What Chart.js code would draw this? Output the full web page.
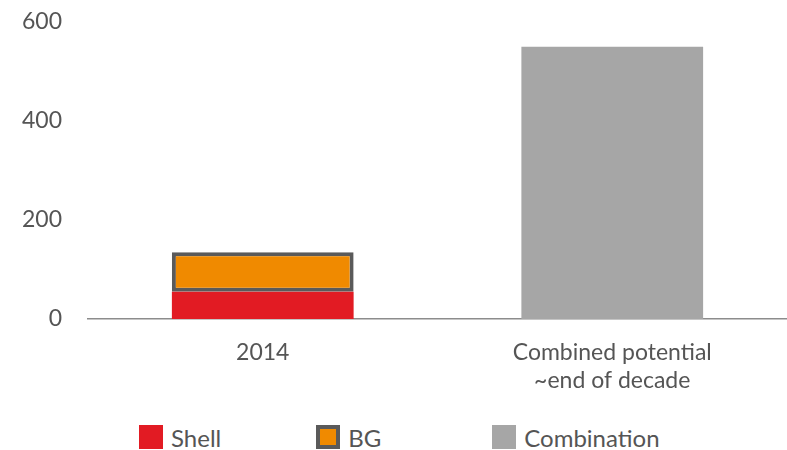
<!DOCTYPE html>
<html>
<head>
<meta charset="utf-8">
<script src="https://cdn.jsdelivr.net/npm/chart.js@4/dist/chart.umd.min.js"></script>
<style>
  body { margin: 0; background: #fff; }
  #wrap { position: relative; width: 787px; height: 402px; }
  #legend { position: absolute; top: 419px; left: 0; width: 787px; box-sizing: border-box; padding-left: 139px;
            display: flex; height: 36px; align-items: center;
            font-family: Lato, sans-serif; font-size: 24px; color: #555; }
  #legend .item { display: flex; align-items: center; }
  #legend .box { width: 24px; height: 24px; box-sizing: border-box; margin-right: 8px; }
</style>
</head>
<body>
<div id="wrap"><canvas id="chart"></canvas></div>
<div id="legend"></div>
<script>
var categories = ['2014', ['Combined potential', '~end of decade']];
var shellValues = [55, null];
var bgValues = [80, null];
var combinationValues = [null, 550];
var yTicks = [0, 200, 400, 600];
var legendGaps = [0, 95, 111];

var ctx = document.getElementById('chart').getContext('2d');
var chart = new Chart(ctx, {
  type: 'bar',
  data: {
    labels: categories,
    datasets: [{
      label: 'Shell',
      data: shellValues,
      backgroundColor: '#e21b23',
      borderWidth: 0
    }, {
      label: 'BG',
      data: bgValues,
      backgroundColor: '#f08a00',
      borderColor: '#5a5a5a',
      borderWidth: 4,
      borderSkipped: false
    }, {
      label: 'Combination',
      data: combinationValues,
      backgroundColor: '#a6a6a6',
      borderWidth: 0
    }]
  },
  options: {
    responsive: true,
    maintainAspectRatio: false,
    animation: false,
    layout: { padding: 0 },
    datasets: { bar: { categoryPercentage: 1.0, barPercentage: 0.52 } },
    plugins: { legend: { display: false }, tooltip: { enabled: false } },
    scales: {
      x: {
        stacked: true,
        grid: { display: false, drawTicks: false },
        border: { display: true, color: '#8c8c8c', width: 1.5 },
        ticks: { color: '#555', padding: 20, font: { family: 'Lato', size: 23 } },
        afterFit: function (axis) {
          axis.height = 83;
          axis.paddingLeft = 0;
          axis.paddingRight = 0;
        }
      },
      y: {
        stacked: true,
        min: 0,
        max: 600,
        afterBuildTicks: function (axis) {
          axis.ticks = yTicks.map(function (v) { return { value: v }; });
        },
        grid: { display: false, drawTicks: false },
        border: { display: false },
        ticks: { color: '#555', padding: 26, font: { family: 'Lato', size: 23 } },
        afterFit: function (axis) {
          axis.width = 88;
          axis.paddingTop = 22;
          axis.paddingBottom = 0;
        }
      }
    }
  }
});

var legend = document.getElementById('legend');
chart.data.datasets.forEach(function (ds, i) {
  var item = document.createElement('div');
  item.className = 'item';
  item.style.marginLeft = legendGaps[i] + 'px';
  var box = document.createElement('span');
  box.className = 'box';
  box.style.background = ds.backgroundColor;
  if (ds.borderWidth) box.style.border = ds.borderWidth + 'px solid ' + ds.borderColor;
  item.appendChild(box);
  item.appendChild(document.createTextNode(ds.label));
  legend.appendChild(item);
});
</script>
</body>
</html>
